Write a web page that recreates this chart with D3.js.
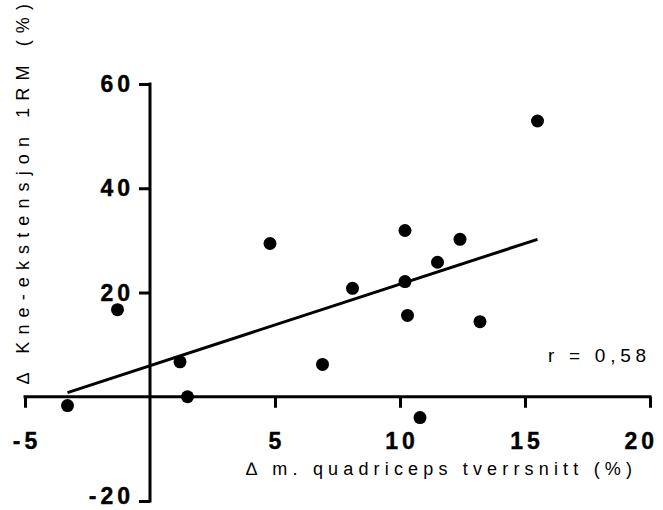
<!DOCTYPE html>
<html><head><meta charset="utf-8">
<script src="https://d3js.org/d3.v7.min.js"></script>
<style>body{margin:0;background:#fff}svg{display:block}</style>
</head><body>
<script>
const xVals = [-3.3, -1.3, 1.2, 1.5, 4.8, 6.9, 8.1, 10.2, 10.2, 10.3, 10.8, 11.5, 12.4, 13.2, 15.5];
const yVals = [-1.7, 16.7, 6.7, 0.0, 29.4, 6.2, 20.8, 31.9, 22.1, 15.6, -4.0, 25.8, 30.2, 14.4, 52.9];
const fitX = [-3.3, 15.5];
const fitY = [0.8, 30.2];
const xTicks = [-5, 5, 10, 15, 20];
const yTicks = [-20, 20, 40, 60];
const xLabel = "\u2206 m. quadriceps tverrsnitt (%)";
const yLabel = "\u2206 Kne-ekstensjon 1RM (%)";
const rText = "r = 0,58";

const W = 663, H = 510;
const svg = d3.select("body").append("svg").attr("width", W).attr("height", H);
const x = d3.scaleLinear().domain([-5, 20]).range([25, 650]);
const y = d3.scaleLinear().domain([-20, 60]).range([501, 84]);
const font = "'Liberation Sans', Arial, sans-serif";

// x axis at y=0
const gx = svg.append("g").attr("transform", `translate(0,${y(0)})`)
  .call(d3.axisBottom(x).tickValues([-5,0,5,10,15,20]).tickSize(11).tickSizeOuter(0).tickFormat(""));
gx.select(".domain").attr("stroke-width", 3).attr("d", `M${x(-5)-1.5},0H${x(20)+1.5}`);
gx.selectAll(".tick line").attr("stroke-width", 3);
gx.selectAll(".tick").filter(d => d === 0).remove();

// y axis at x=0
const gy = svg.append("g").attr("transform", `translate(${x(0)},0)`)
  .call(d3.axisLeft(y).tickValues(yTicks).tickSize(11).tickSizeOuter(0).tickFormat(""));
gy.select(".domain").attr("stroke-width", 3).attr("d", `M0,${y(-20)+1.5}V${y(60)-1.5}`);
gy.selectAll(".tick line").attr("stroke-width", 3);

// tick labels
svg.append("g").selectAll("text").data(xTicks).join("text")
  .attr("x", d => d === 20 ? 658 : x(d) + 2).attr("y", y(0) + 52)
  .attr("text-anchor", d => d === 20 ? "end" : "middle")
  .attr("font-family", font).attr("font-weight", "bold").attr("font-size", 23)
  .attr("letter-spacing", 4)
  .attr("stroke", "#000").attr("stroke-width", 0.4)
  .text(d => String(d));

svg.append("g").selectAll("text").data(yTicks).join("text")
  .attr("x", x(0) - 16).attr("y", d => d === -20 ? 504 : y(d) + 8)
  .attr("text-anchor", "end")
  .attr("font-family", font).attr("font-weight", "bold").attr("font-size", 23)
  .attr("letter-spacing", 4)
  .attr("stroke", "#000").attr("stroke-width", 0.4)
  .text(d => String(d));

// fit line
svg.append("line")
  .attr("x1", x(fitX[0])).attr("y1", y(fitY[0]))
  .attr("x2", x(fitX[1])).attr("y2", y(fitY[1]))
  .attr("stroke", "#000").attr("stroke-width", 3);

// points
svg.append("g").selectAll("circle").data(xVals.map((v, i) => [v, yVals[i]])).join("circle")
  .attr("cx", d => x(d[0])).attr("cy", d => y(d[1])).attr("r", 6.5).attr("fill", "#000");

// axis labels
svg.append("text").attr("x", 246).attr("y", 475)
  .attr("font-family", font).attr("font-size", 18)
  .attr("textLength", 386).attr("lengthAdjust", "spacing")
  .text(xLabel);

svg.append("text").attr("transform", "translate(29,384) rotate(-90)")
  .attr("font-family", font).attr("font-size", 18)
  .attr("textLength", 380).attr("lengthAdjust", "spacing")
  .text(yLabel);

svg.append("text").attr("x", 548).attr("y", 362)
  .attr("font-family", font).attr("font-size", 19)
  .attr("textLength", 98).attr("lengthAdjust", "spacing")
  .text(rText);
</script>
</body></html>
